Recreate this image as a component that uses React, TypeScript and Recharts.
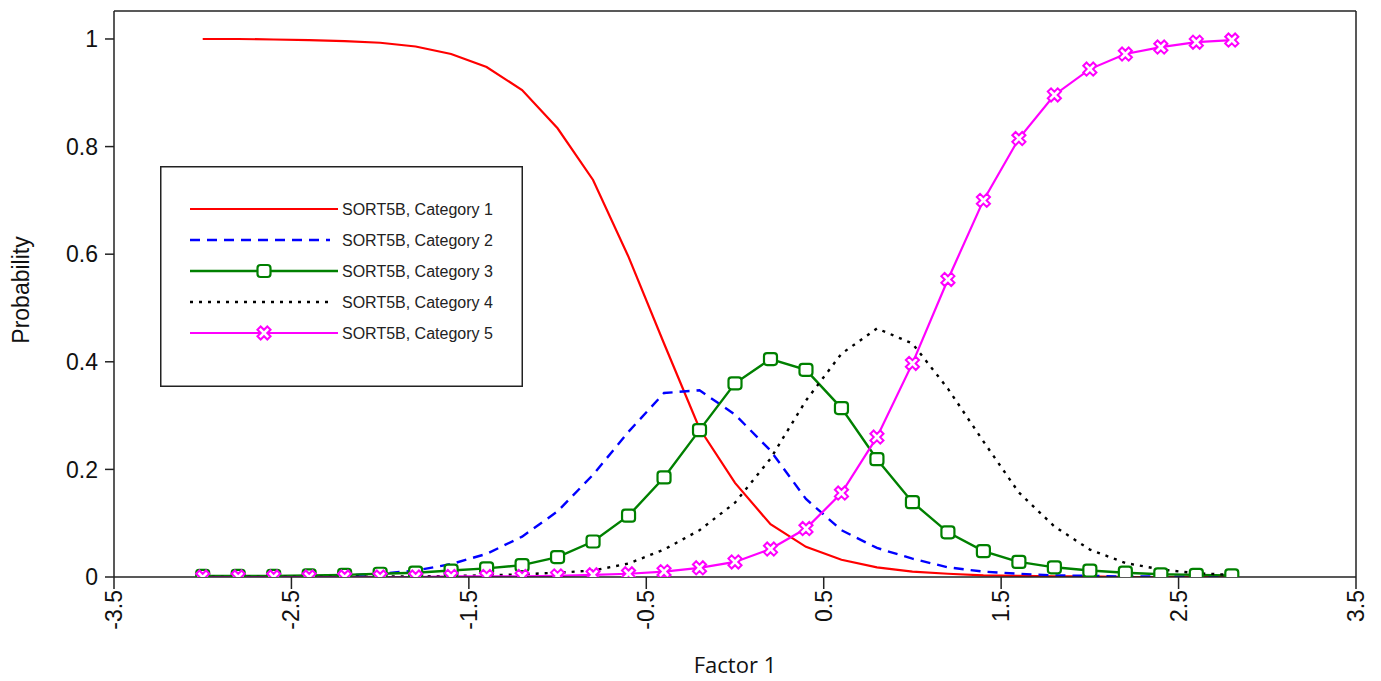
import React from 'react';
import { LineChart, Line, XAxis, YAxis, ReferenceLine, Legend, Label } from 'recharts';

const X_VALUES = [-3.0, -2.8, -2.6, -2.4, -2.2, -2.0, -1.8, -1.6, -1.4, -1.2, -1.0, -0.8, -0.6, -0.4, -0.2, 0.0, 0.2, 0.4, 0.6, 0.8, 1.0, 1.2, 1.4, 1.6, 1.8, 2.0, 2.2, 2.4, 2.6, 2.8];
const CAT1 = [1.0, 1.0, 0.999, 0.998, 0.996, 0.993, 0.986, 0.972, 0.948, 0.905, 0.834, 0.738, 0.595, 0.434, 0.276, 0.175, 0.098, 0.056, 0.032, 0.018, 0.01, 0.006, 0.003, 0.002, 0.001, 0.001, 0.0, 0.0, 0.0, 0.0];
const CAT2 = [0.0, 0.0, 0.001, 0.001, 0.003, 0.006, 0.012, 0.024, 0.043, 0.075, 0.122, 0.19, 0.27, 0.342, 0.347, 0.302, 0.235, 0.145, 0.087, 0.054, 0.034, 0.018, 0.01, 0.006, 0.003, 0.002, 0.001, 0.001, 0.0, 0.0];
const CAT3 = [0.002, 0.002, 0.002, 0.003, 0.004, 0.006, 0.008, 0.012, 0.016, 0.022, 0.037, 0.066, 0.114, 0.185, 0.273, 0.36, 0.405, 0.385, 0.314, 0.219, 0.139, 0.083, 0.048, 0.028, 0.018, 0.012, 0.008, 0.005, 0.004, 0.003];
const CAT4 = [0.0, 0.0, 0.0, 0.0, 0.0, 0.001, 0.001, 0.002, 0.003, 0.005, 0.008, 0.012, 0.025, 0.051, 0.087, 0.138, 0.22, 0.328, 0.415, 0.462, 0.434, 0.35, 0.252, 0.157, 0.094, 0.051, 0.026, 0.014, 0.007, 0.004];
const CAT5 = [0.0, 0.0, 0.0, 0.0, 0.0, 0.0, 0.0, 0.001, 0.001, 0.001, 0.002, 0.004, 0.006, 0.01, 0.017, 0.028, 0.052, 0.09, 0.156, 0.26, 0.397, 0.553, 0.70, 0.815, 0.896, 0.944, 0.972, 0.985, 0.994, 0.998];

const SERIES_NAMES = ['SORT5B, Category 1', 'SORT5B, Category 2', 'SORT5B, Category 3', 'SORT5B, Category 4', 'SORT5B, Category 5'];
const X_TICKS = [-3.5, -2.5, -1.5, -0.5, 0.5, 1.5, 2.5, 3.5];
const Y_TICKS = [0, 0.2, 0.4, 0.6, 0.8, 1];
const X_DOMAIN = [-3.5, 3.5];
const Y_MAX = 1.052;
const X_LABEL = 'Factor 1';
const Y_LABEL = 'Probability';

const data = X_VALUES.map((x, i) => ({ x, c1: CAT1[i], c2: CAT2[i], c3: CAT3[i], c4: CAT4[i], c5: CAT5[i] }));

const AXIS_COLOR = '#222';
const TICK_FONT = '"Liberation Sans", Arial, sans-serif';

const crossPath = (() => {
  const L = 7;
  const a = 2.3;
  const pts = [[a, -L], [a, -a], [L, -a], [L, a], [a, a], [a, L], [-a, L], [-a, a], [-L, a], [-L, -a], [-a, -a], [-a, -L]];
  return 'M' + pts.map((p) => p.join(',')).join('L') + 'Z';
})();

const SquareMarker = ({ cx, cy }: { cx: number; cy: number }) => (
  <rect x={cx - 6.5} y={cy - 6} width={13} height={12} rx={3} ry={3} fill="#fff" stroke="#008000" strokeWidth={2.2} />
);

const CrossMarker = ({ cx, cy }: { cx: number; cy: number }) => (
  <path d={crossPath} transform={`translate(${cx},${cy}) rotate(45)`} fill="#fff" stroke="#FF00FF" strokeWidth={2} />
);

const squareDot = (props: any) => {
  const { cx, cy, index } = props;
  if (cx == null || cy == null) return <g key={`sq-${index}`} />;
  return <g key={`sq-${index}`}><SquareMarker cx={cx} cy={cy} /></g>;
};

const crossDot = (props: any) => {
  const { cx, cy, index } = props;
  if (cx == null || cy == null) return <g key={`cx-${index}`} />;
  return <g key={`cx-${index}`}><CrossMarker cx={cx} cy={cy} /></g>;
};

const XTick = (props: any) => {
  const { x, y, payload } = props;
  return (
    <text
      x={x}
      y={y}
      transform={`rotate(-90, ${x}, ${y})`}
      textAnchor="end"
      dy="0.35em"
      fontSize={23}
      fontFamily={TICK_FONT}
      fill="#111"
    >
      {String(payload.value)}
    </text>
  );
};

const SERIES_STYLE = [
  { color: '#FF0000', dash: undefined as string | undefined, width: 2.2, marker: null as null | 'sq' | 'cross' },
  { color: '#0000FF', dash: '10 7', width: 2.4, marker: null },
  { color: '#008000', dash: undefined, width: 2.4, marker: 'sq' as const },
  { color: '#000000', dash: '3 6', width: 2.4, marker: null },
  { color: '#FF00FF', dash: undefined, width: 2.2, marker: 'cross' as const },
];

const LegendBox = () => {
  const W = 363;
  const H = 221;
  return (
    <svg width={W} height={H} style={{ display: 'block' }}>
      <rect x={0.75} y={0.75} width={W - 1.5} height={H - 1.5} fill="#fff" stroke="#222" strokeWidth={1.5} />
      {SERIES_NAMES.map((name, i) => {
        const yy = 43 + i * 31;
        const st = SERIES_STYLE[i];
        return (
          <g key={name}>
            <line x1={30} x2={st.dash ? 170 : 178} y1={yy} y2={yy} stroke={st.color} strokeWidth={st.width} strokeDasharray={st.dash} />
            {st.marker === 'sq' && <SquareMarker cx={104} cy={yy} />}
            {st.marker === 'cross' && <CrossMarker cx={104} cy={yy} />}
            <text x={182} y={yy} dy="0.36em" fontSize={16} fontFamily={TICK_FONT} fill="#222">{name}</text>
          </g>
        );
      })}
    </svg>
  );
};

export default function App() {
  const keys = ['c1', 'c2', 'c3', 'c4', 'c5'];
  return (
    <div style={{ position: 'absolute', left: 0, top: 0, width: 1381, height: 681, background: '#fff' }}>
      <LineChart width={1381} height={681} data={data} margin={{ top: 11, right: 25, left: 0, bottom: 0 }}>
        <XAxis
          dataKey="x"
          type="number"
          domain={X_DOMAIN}
          ticks={X_TICKS}
          interval={0}
          height={104}
          tickSize={12}
          tickMargin={1}
          tick={<XTick />}
          stroke={AXIS_COLOR}
          strokeWidth={1.5}
          allowDataOverflow
        >
          <Label
            content={(p: any) => {
              const vb = p.viewBox;
              return (
                <text x={vb.x + vb.width / 2} y={673} textAnchor="middle" fontSize={22} fontFamily='"Open Sans", sans-serif' fill="#111">
                  {X_LABEL}
                </text>
              );
            }}
          />
        </XAxis>
        <YAxis
          type="number"
          domain={[0, Y_MAX]}
          ticks={Y_TICKS}
          interval={0}
          width={114}
          tickSize={9}
          tickMargin={7}
          tick={{ fontSize: 23, fontFamily: TICK_FONT, fill: '#111' }}
          stroke={AXIS_COLOR}
          strokeWidth={1.5}
          allowDataOverflow
        >
          <Label
            content={(p: any) => {
              const vb = p.viewBox;
              const cx = 21;
              const cy = vb.y + vb.height / 2 - 4;
              return (
                <text x={cx} y={cy} transform={`rotate(-90, ${cx}, ${cy})`} textAnchor="middle" dy="0.35em" fontSize={23} fontFamily={TICK_FONT} fill="#111">
                  {Y_LABEL}
                </text>
              );
            }}
          />
        </YAxis>
        <ReferenceLine y={Y_MAX} stroke={AXIS_COLOR} strokeWidth={1.5} />
        <ReferenceLine x={3.5} stroke={AXIS_COLOR} strokeWidth={1.5} />
        {keys.map((k, i) => {
          const st = SERIES_STYLE[i];
          return (
            <Line
              key={k}
              dataKey={k}
              name={SERIES_NAMES[i]}
              type="linear"
              stroke={st.color}
              strokeWidth={st.width}
              strokeDasharray={st.dash}
              dot={st.marker === 'sq' ? squareDot : st.marker === 'cross' ? crossDot : false}
              activeDot={false}
              isAnimationActive={false}
            />
          );
        })}
        <Legend
          layout="horizontal"
          verticalAlign="middle"
          align="center"
          content={() => <LegendBox />}
          wrapperStyle={{ position: 'absolute', left: 160, top: 166, width: 363, height: 221 }}
        />
      </LineChart>
    </div>
  );
}
